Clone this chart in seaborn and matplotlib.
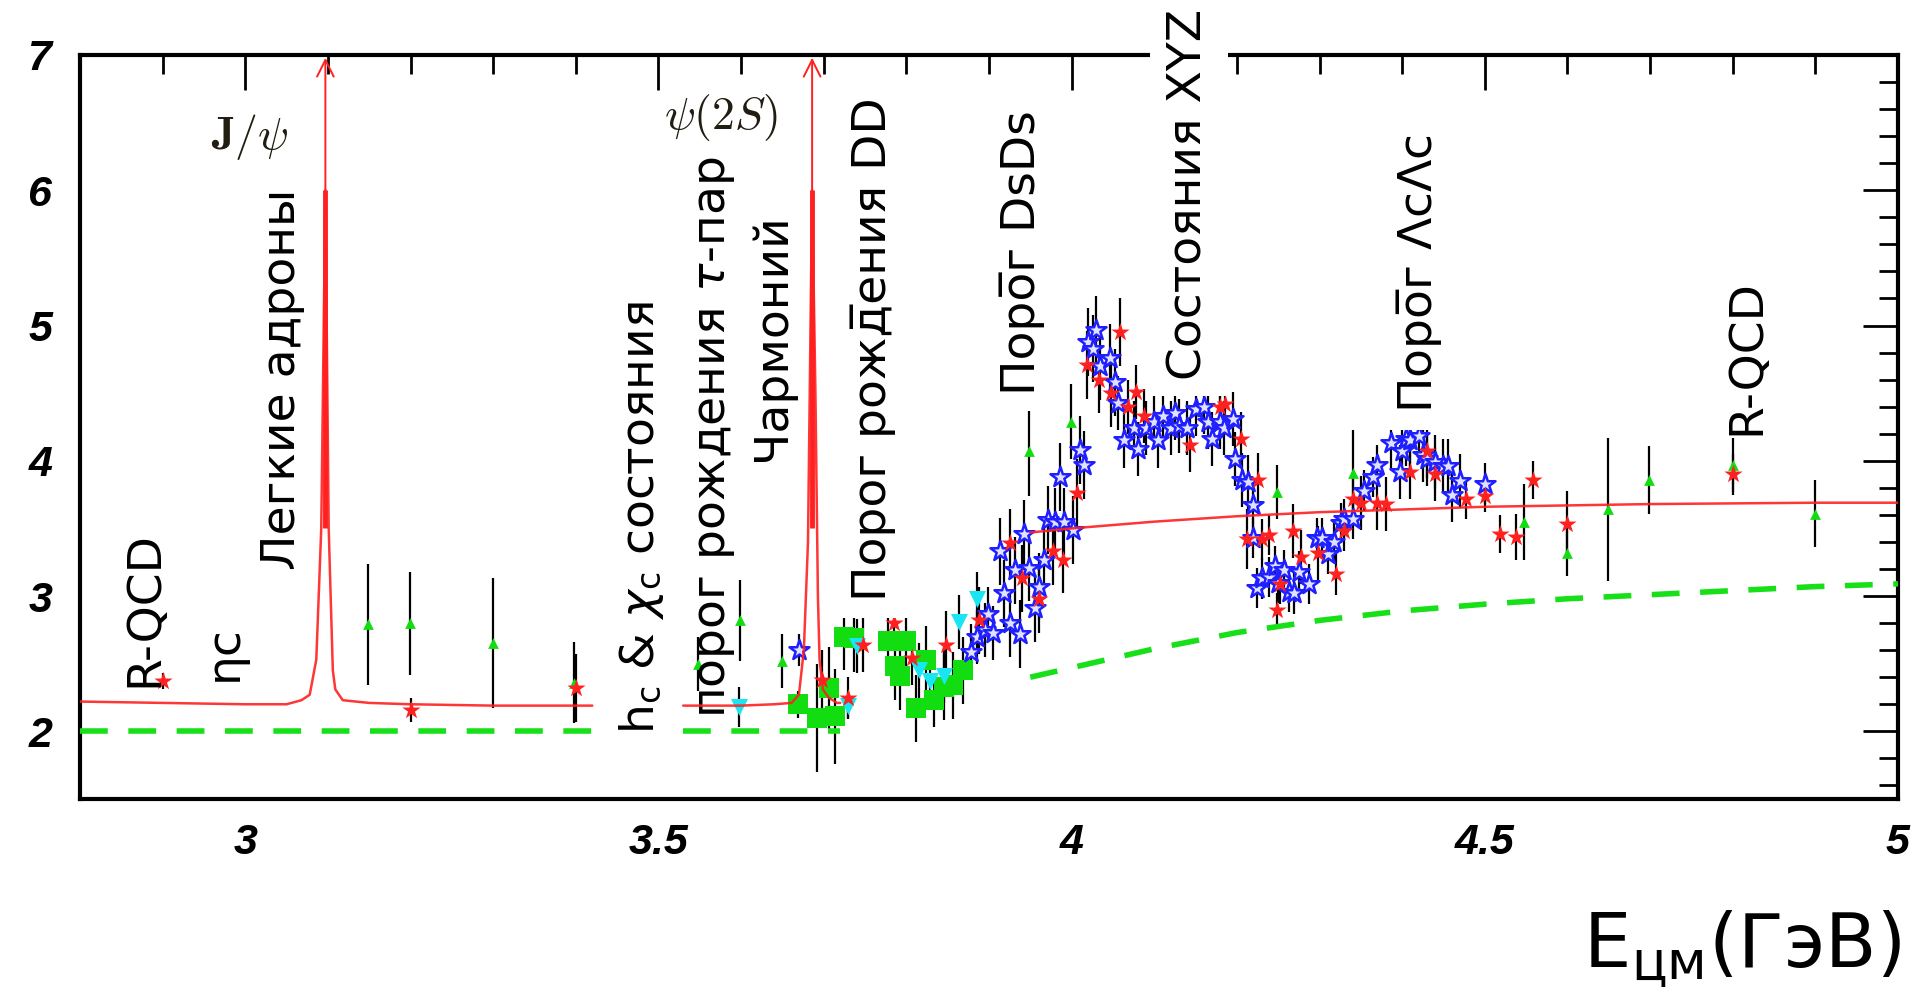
import pandas as pd
import seaborn as sns

import matplotlib
matplotlib.use('Agg')
from matplotlib import pyplot as plt
from matplotlib.ticker import MultipleLocator, FormatStrFormatter

# --- data: R = sigma(e+e- -> hadrons) / sigma(mu+mu-) ---

# red filled stars (x, y, error)
red_x = [2.90, 3.20, 3.40, 3.698, 3.73, 3.747, 3.785, 3.807, 3.848, 3.888, 3.926, 3.94, 3.96,
         3.977, 3.99, 4.007, 4.019, 4.033, 4.048, 4.058, 4.068, 4.078, 4.088, 4.143, 4.18,
         4.186, 4.205, 4.212, 4.226, 4.23, 4.239, 4.248, 4.252, 4.268, 4.277, 4.298, 4.32,
         4.33, 4.34, 4.35, 4.37, 4.38, 4.41, 4.43, 4.44, 4.477, 4.50, 4.518, 4.538, 4.558,
         4.599, 4.80]
red_y = [2.37, 2.16, 2.32, 2.38, 2.25, 2.64, 2.80, 2.54, 2.64, 2.82, 3.39, 3.13, 2.98,
         3.33, 3.27, 3.76, 4.71, 4.60, 4.50, 4.95, 4.40, 4.51, 4.33, 4.12, 4.40,
         4.42, 4.16, 3.42, 3.86, 3.42, 3.45, 2.90, 3.09, 3.48, 3.29, 3.32, 3.16,
         3.48, 3.72, 3.69, 3.69, 3.68, 3.92, 4.07, 3.90, 3.72, 3.74, 3.46, 3.44, 3.86,
         3.53, 3.90]
red_e = [0.06, 0.09, 0.25, 0.22, 0.15, 0.20, 0.20, 0.20, 0.25, 0.25, 0.25, 0.25, 0.25,
         0.25, 0.25, 0.25, 0.25, 0.25, 0.25, 0.25, 0.20, 0.20, 0.20, 0.20, 0.20,
         0.20, 0.20, 0.22, 0.20, 0.15, 0.15, 0.12, 0.15, 0.20, 0.20, 0.20, 0.15,
         0.15, 0.20, 0.20, 0.20, 0.20, 0.20, 0.20, 0.20, 0.15, 0.12, 0.14, 0.17, 0.14,
         0.25, 0.15]

# blue open stars
blue_x = [3.67, 3.878, 3.886, 3.895, 3.899, 3.905, 3.913, 3.918, 3.926, 3.932, 3.937, 3.943,
          3.948, 3.956, 3.961, 3.966, 3.972, 3.98, 3.986, 3.991, 4.002, 4.01, 4.015, 4.02,
          4.026, 4.03, 4.034, 4.046, 4.052, 4.056, 4.063, 4.075, 4.08, 4.09, 4.10, 4.105,
          4.11, 4.12, 4.125, 4.13, 4.14, 4.15, 4.16, 4.165, 4.17, 4.18, 4.184, 4.195,
          4.198, 4.206, 4.214, 4.22, 4.22, 4.224, 4.231, 4.239, 4.246, 4.25, 4.257, 4.263,
          4.269, 4.275, 4.287, 4.297, 4.303, 4.31, 4.318, 4.326, 4.33, 4.34, 4.354, 4.365,
          4.37, 4.386, 4.398, 4.40, 4.405, 4.41, 4.42, 4.425, 4.43, 4.44, 4.45, 4.455,
          4.46, 4.47, 4.50]
blue_y = [2.60, 2.59, 2.70, 2.75, 2.87, 2.73, 3.33, 3.02, 2.80, 3.19, 2.72, 3.46,
          3.21, 2.91, 3.07, 3.27, 3.56, 3.55, 3.88, 3.55, 3.49, 4.08, 3.97, 4.88,
          4.83, 4.97, 4.70, 4.76, 4.58, 4.43, 4.15, 4.24, 4.09, 4.24, 4.29, 4.15,
          4.33, 4.24, 4.35, 4.26, 4.24, 4.38, 4.40, 4.29, 4.16, 4.29, 4.24, 4.31,
          4.01, 3.86, 3.84, 3.67, 3.43, 3.06, 3.13, 3.14, 3.22, 3.10, 3.19, 3.03,
          3.02, 3.18, 3.09, 3.43, 3.43, 3.31, 3.40, 3.54, 3.57, 3.57, 3.78, 3.88,
          3.97, 4.13, 3.92, 4.07, 4.16, 4.15, 4.18, 4.04, 4.01, 3.99, 3.96, 3.96,
          3.75, 3.85, 3.83]
blue_e = [0.12, 0.20, 0.20, 0.20, 0.20, 0.20, 0.25, 0.25, 0.25, 0.25, 0.25, 0.25,
          0.25, 0.25, 0.25, 0.25, 0.25, 0.25, 0.25, 0.25, 0.25, 0.25, 0.25, 0.25,
          0.25, 0.25, 0.25, 0.25, 0.25, 0.20, 0.20, 0.20, 0.20, 0.20, 0.20, 0.20,
          0.20, 0.20, 0.20, 0.20, 0.20, 0.20, 0.20, 0.20, 0.20, 0.20, 0.20, 0.20,
          0.20, 0.20, 0.20, 0.20, 0.15, 0.15, 0.15, 0.15, 0.15, 0.15, 0.15, 0.15,
          0.15, 0.15, 0.15, 0.15, 0.15, 0.15, 0.15, 0.15, 0.15, 0.15, 0.15, 0.15,
          0.15, 0.20, 0.20, 0.20, 0.20, 0.20, 0.20, 0.20, 0.20, 0.20, 0.20, 0.20,
          0.20, 0.20, 0.15]

# green triangles
tri_x = [3.148, 3.199, 3.30, 3.398, 3.548, 3.599, 3.649, 3.948, 3.999, 4.248, 4.34,
         4.548, 4.599, 4.649, 4.699, 4.80, 4.899]
tri_y = [2.79, 2.80, 2.65, 2.36, 2.50, 2.82, 2.52, 4.07, 4.29, 3.77, 3.91,
         3.55, 3.32, 3.64, 3.86, 3.97, 3.61]
tri_e = [0.45, 0.38, 0.48, 0.30, 0.20, 0.30, 0.20, 0.33, 0.28, 0.20, 0.32,
         0.28, 0.17, 0.53, 0.25, 0.20, 0.25]

# green squares
sq_x = [3.669, 3.692, 3.706, 3.714, 3.725, 3.737, 3.778, 3.786, 3.792, 3.799, 3.812,
        3.824, 3.834, 3.845, 3.856, 3.869]
sq_y = [2.20, 2.10, 2.32, 2.11, 2.70, 2.69, 2.67, 2.48, 2.41, 2.67, 2.17,
        2.53, 2.23, 2.33, 2.34, 2.45]
sq_e = [0.10, 0.40, 0.30, 0.35, 0.25, 0.25, 0.22, 0.25, 0.25, 0.22, 0.25,
        0.25, 0.20, 0.25, 0.25, 0.25]

# cyan down triangles
cy_x = [3.597, 3.73, 3.74, 3.815, 3.829, 3.845, 3.864, 3.885]
cy_y = [2.18, 2.19, 2.63, 2.45, 2.37, 2.41, 2.81, 2.98]
cy_e = [0.15, 0.10, 0.20, 0.20, 0.20, 0.20, 0.20, 0.20]

# red R curve (three visible pieces, J/psi and psi(2S) peaks)
rc1_x = [2.80, 2.90, 3.00, 3.05, 3.068, 3.078, 3.086, 3.092, 3.097, 3.101, 3.106, 3.109,
         3.118, 3.15, 3.20, 3.30, 3.42]
rc1_y = [2.22, 2.21, 2.20, 2.20, 2.23, 2.27, 2.53, 3.50, 6.00, 3.50, 2.45, 2.31,
         2.23, 2.21, 2.20, 2.19, 2.19]
rc2_x = [3.53, 3.60, 3.64, 3.661, 3.670, 3.676, 3.681, 3.686, 3.690, 3.693, 3.695,
         3.699, 3.706, 3.716, 3.72]
rc2_y = [2.19, 2.19, 2.20, 2.21, 2.27, 2.60, 3.40, 6.00, 4.50, 3.00, 2.53,
         2.31, 2.25, 2.21, 2.21]
rc3_x = [3.95, 4.00, 4.10, 4.20, 4.30, 4.40, 4.50, 4.60, 4.70, 4.80, 4.90, 5.00]
rc3_y = [3.47, 3.50, 3.55, 3.59, 3.62, 3.64, 3.66, 3.67, 3.68, 3.685, 3.69, 3.69]
peak_x = [3.097, 3.686]

# green dashed curve
gc1_x = [2.80, 3.42]
gc1_y = [2.00, 2.00]
gc2_x = [3.53, 3.72]
gc2_y = [2.00, 2.00]
gc3_x = [3.95, 4.00, 4.10, 4.20, 4.30, 4.40, 4.50, 4.60, 4.70, 4.80, 4.90, 5.00]
gc3_y = [2.40, 2.47, 2.61, 2.73, 2.82, 2.89, 2.94, 2.98, 3.01, 3.04, 3.07, 3.09]

# annotations: text, x, y(bottom), boxed
labels = [
    ("R-QCD", 2.878, 2.33, False),
    ("ηc", 2.975, 2.37, False),
    ("Легкие адроны", 3.045, 3.19, False),
    ("h$_\\mathregular{c}$ & $\\chi_\\mathregular{c}$ состояния", 3.48, 1.98, True),
    ("порог рождения $\\tau$-пар", 3.568, 2.10, False),
    ("Чармоний", 3.638, 4.00, False),
    ("Порог рожд\u0305ения DD", 3.76, 2.96, True),
    ("Поро\u0305г DsDs", 3.94, 4.49, True),
    ("Состояния XYZ", 4.142, 4.60, True),
    ("Поро\u0305г $\\Lambda$c$\\Lambda$c", 4.42, 4.35, True),
    ("R-QCD", 4.817, 4.19, False),
]

RED = '#ff2020'
GREEN = '#18e018'

sns.set_theme(style='white')
plt.rcParams['font.family'] = ['DejaVu Sans']
plt.rcParams['mathtext.fontset'] = 'dejavusans'
plt.rcParams['text.color'] = 'black'
plt.rcParams['xtick.color'] = 'black'
plt.rcParams['ytick.color'] = 'black'

fig = plt.figure(figsize=(19.22, 10.07), dpi=100)
ax = fig.add_axes([0.0416, 0.2066, 0.9459, 0.7388])

# error bars
for xs, ys, es in [(red_x, red_y, red_e), (blue_x, blue_y, blue_e), (tri_x, tri_y, tri_e),
                   (sq_x, sq_y, sq_e), (cy_x, cy_y, cy_e)]:
    ax.errorbar(xs, ys, yerr=es, fmt='none', ecolor='black', elinewidth=1.6, capsize=0, zorder=2)

sns.scatterplot(x=sq_x, y=sq_y, marker='s', s=190, color='#11dd11', linewidth=0, ax=ax, zorder=3)
sns.scatterplot(x=cy_x, y=cy_y, marker='v', s=150, color='#19e6f2', linewidth=0, ax=ax, zorder=3)
sns.scatterplot(x=tri_x, y=tri_y, marker='^', s=60, color='#11dd11', linewidth=0, ax=ax, zorder=3)
sns.scatterplot(x=blue_x, y=blue_y, marker='*', s=230, color='#dfe2ff', edgecolor='#1f1fff',
                linewidth=1.8, ax=ax, zorder=4)
sns.scatterplot(x=red_x, y=red_y, marker='*', s=190, color=RED, linewidth=0, ax=ax, zorder=4)

# curves
for xs, ys in [(rc1_x, rc1_y), (rc2_x, rc2_y), (rc3_x, rc3_y)]:
    sns.lineplot(x=xs, y=ys, sort=False, estimator=None, color=RED, lw=1.8, alpha=0.9,
                 ax=ax, zorder=6)
for xs, ys in [(gc1_x, gc1_y), (gc2_x, gc2_y), (gc3_x, gc3_y)]:
    sns.lineplot(x=xs, y=ys, sort=False, estimator=None, color=GREEN, lw=4,
                 linestyle=(0, (5, 3.7)), ax=ax, zorder=6)
ax.vlines(peak_x, 3.5, 6.0, color=RED, lw=3.5, zorder=6)
for px in peak_x:
    ax.annotate('', xy=(px, 7.0), xytext=(px, 5.9),
                arrowprops=dict(arrowstyle='->', color=RED, lw=1.4, mutation_scale=30),
                zorder=6, annotation_clip=False)

# text labels
for s, x, y, boxed in labels:
    kw = dict(rotation=90, ha='center', va='bottom', fontsize=34, color='black', zorder=5)
    if boxed:
        kw['bbox'] = dict(fc='white', ec='none', pad=12)
    ax.text(x, y, s, clip_on=False, **kw)

ax.text(3.005, 6.39, r'$\mathbf{J}/\psi$', math_fontfamily='cm', fontsize=33, color='#221d12',
        ha='center', va='center', zorder=5)
ax.text(3.576, 6.54, r'$\psi(\mathbf{2}S)$', math_fontfamily='cm', fontsize=33, color='#221d12',
        ha='center', va='center', zorder=5)

# axes styling
ax.set_xlim(2.8, 5.0)
ax.set_ylim(1.5, 7.0)
ax.set_xlabel('')
ax.set_ylabel('')
ax.xaxis.set_major_locator(MultipleLocator(0.5))
ax.xaxis.set_minor_locator(MultipleLocator(0.1))
ax.yaxis.set_major_locator(MultipleLocator(1))
ax.yaxis.set_minor_locator(MultipleLocator(0.2))
ax.xaxis.set_major_formatter(FormatStrFormatter('%g'))
ax.yaxis.set_major_formatter(FormatStrFormatter('%g'))
ax.tick_params(which='both', direction='in', top=True, right=True, color='black', width=2)
ax.tick_params(which='major', length=25)
ax.tick_params(which='minor', length=14)
ax.tick_params(axis='x', which='major', pad=17)
ax.tick_params(axis='y', which='major', pad=20)
for lab in ax.get_xticklabels() + ax.get_yticklabels():
    lab.set_fontfamily('Liberation Sans')
    lab.set_fontweight('bold')
    lab.set_fontstyle('italic')
    lab.set_fontsize(31)
    lab.set_color('black')
for sp in ax.spines.values():
    sp.set_color('black')
    sp.set_linewidth(3)
    sp.set_visible(True)

fig.text(0.989, 0.038, r'E$_\mathregular{цм}$(ГэВ)', fontsize=54, color='black',
         ha='right', va='baseline')

fig.savefig('out.png', dpi=100, facecolor='white')
